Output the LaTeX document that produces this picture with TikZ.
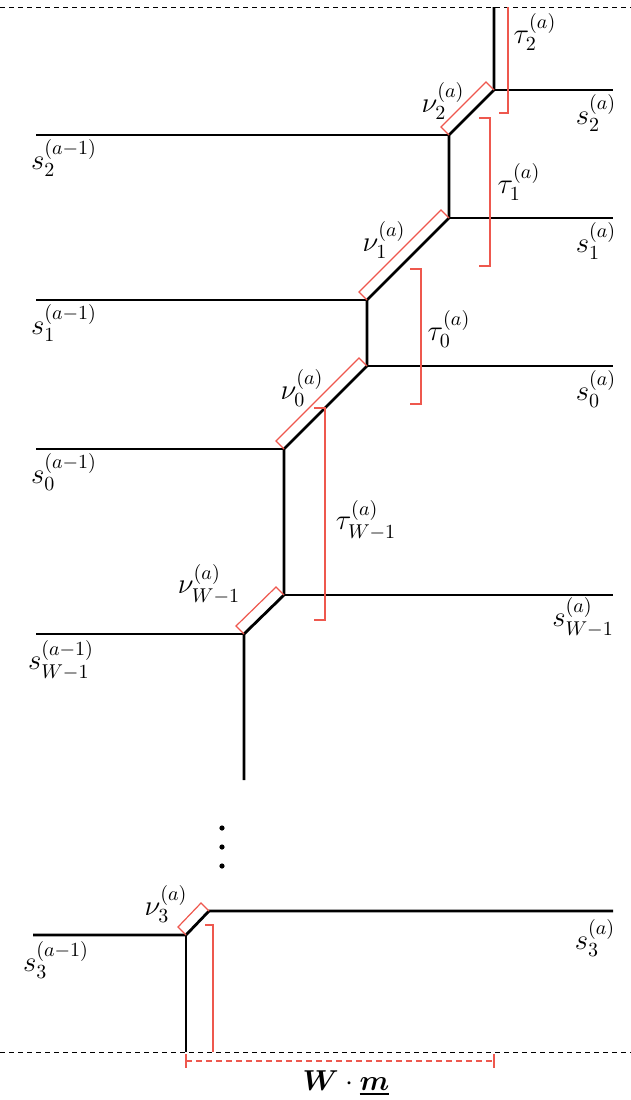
\documentclass[tikz,border=0pt]{standalone}
\usepackage{amsmath}
\definecolor{bred}{RGB}{238,88,78}
\begin{document}
\begin{tikzpicture}[x=0.5pt,y=-0.5pt,
  wire/.style={line width=1.4pt, line join=miter},
  redline/.style={draw=bred, line width=0.6pt},
  lab/.style={font=\fontsize{14.2}{17}\selectfont, inner sep=0pt},
  guide/.style={line width=0.5pt, dash pattern=on 2.5pt off 2pt}
]
\useasboundingbox (0,0) rectangle (631,1100);
% guide lines
\coordinate (GTl) at (0,7);   \coordinate (GTr) at (631,7);
\coordinate (GBl) at (0,1052); \coordinate (GBr) at (631,1052);
\draw[guide] (GTl) -- (GTr);
\draw[guide] (GBl) -- (GBr);
% junctions
\coordinate (T2top) at (494,7);
\coordinate (T2) at (494,90);  \coordinate (R2) at (613,90);
\coordinate (B2) at (449,135); \coordinate (L2) at (36,135);
\coordinate (T1) at (449,218); \coordinate (R1) at (613,218);
\coordinate (B1) at (367,300); \coordinate (L1) at (36,300);
\coordinate (T0) at (367,366); \coordinate (R0) at (613,366);
\coordinate (B0) at (284,449); \coordinate (L0) at (36,449);
\coordinate (TW) at (284,595); \coordinate (RW) at (613,595);
\coordinate (BW) at (244,634); \coordinate (LW) at (36,634);
\coordinate (BWbot) at (244,780);
\coordinate (T3) at (209,911); \coordinate (R3) at (613,911);
\coordinate (B3) at (186,935); \coordinate (L3) at (33,935);
\coordinate (B3bot) at (186,1052);
% black wires
\draw[wire] (T2top) -- (T2) -- (B2) -- (T1) -- (B1) -- (T0) -- (B0) -- (TW) -- (BW) -- (BWbot);
\draw[wire] (T2) -- (R2);
\draw[wire] (B2) -- (L2);
\draw[wire] (T1) -- (R1);
\draw[wire] (B1) -- (L1);
\draw[wire] (T0) -- (R0);
\draw[wire] (B0) -- (L0);
\draw[wire] (TW) -- (RW);
\draw[wire] (BW) -- (LW);
\draw[wire] (L3) -- (B3) -- (T3) -- (R3);
\draw[wire] (B3) -- (B3bot);
% nu brackets
\foreach \b/\t in {B2/T2, B1/T1, B0/T0, BW/TW, B3/T3}{
  \draw[redline] (\b) -- ([shift={(-8,-8)}]\b) -- ([shift={(-8,-8)}]\t) -- (\t);
}
% tau brackets
\coordinate (tau2a) at (508,7);   \coordinate (tau2b) at (508,113);
\draw[redline] (tau2a) -- (tau2b) -- ([shift={(-9,0)}]tau2b);
\coordinate (tau1a) at (490,118); \coordinate (tau1b) at (490,266);
\draw[redline] ([shift={(-11,0)}]tau1a) -- (tau1a) -- (tau1b) -- ([shift={(-11,0)}]tau1b);
\coordinate (tau0a) at (421,269); \coordinate (tau0b) at (421,404);
\draw[redline] ([shift={(-11,0)}]tau0a) -- (tau0a) -- (tau0b) -- ([shift={(-11,0)}]tau0b);
\coordinate (tauWa) at (325,408); \coordinate (tauWb) at (325,620);
\draw[redline] ([shift={(-11,0)}]tauWa) -- (tauWa) -- (tauWb) -- ([shift={(-11,0)}]tauWb);
\coordinate (tau3a) at (213,925); \coordinate (tau3b) at (213,1052);
\draw[redline] ([shift={(-8,0)}]tau3a) -- (tau3a) -- (tau3b);
% dimension
\coordinate (D1) at (186,1061); \coordinate (D2) at (494,1061);
\draw[redline, dash pattern=on 3pt off 2pt] (D1) -- (D2);
\draw[redline] ([shift={(0,-7)}]D1) -- ([shift={(0,7)}]D1);
\draw[redline] ([shift={(0,-7)}]D2) -- ([shift={(0,7)}]D2);
\node[font=\fontsize{14}{16}\selectfont, inner sep=0pt] (wm) at (346,1083) {$\boldsymbol{W}\cdot\underline{\boldsymbol{m}}$};
% dots
\fill (222,828) circle (2.6);
\fill (222,847) circle (2.6);
\fill (222,866) circle (2.6);
% labels right
\node[lab] (s2a) at (596,113) {$s_2^{(a)}$};
\node[lab] (s1a) at (596,241) {$s_1^{(a)}$};
\node[lab] (s0a) at (596,389) {$s_0^{(a)}$};
\node[lab] (sWa) at (583,617) {$s_{W-1}^{(a)}$};
\node[lab] (s3a) at (595,938) {$s_3^{(a)}$};
% labels left
\node[lab] (s2p) at (64,158) {$s_2^{(a-1)}$};
\node[lab] (s1p) at (64,323) {$s_1^{(a-1)}$};
\node[lab] (s0p) at (64,472) {$s_0^{(a-1)}$};
\node[lab] (sWp) at (61,660) {$s_{W-1}^{(a-1)}$};
\node[lab] (s3p) at (56,960) {$s_3^{(a-1)}$};
% nu labels
\node[lab] (nu2) at (443,101) {$\nu_2^{(a)}$};
\node[lab] (nu1) at (384,240) {$\nu_1^{(a)}$};
\node[lab] (nu0) at (302,388) {$\nu_0^{(a)}$};
\node[lab] (nuW) at (209,584) {$\nu_{W-1}^{(a)}$};
\node[lab] (nu3) at (166,904) {$\nu_3^{(a)}$};
% tau labels
\node[lab] (t2) at (535,32) {$\tau_2^{(a)}$};
\node[lab] (t1) at (519,182) {$\tau_1^{(a)}$};
\node[lab] (t0) at (449,329) {$\tau_0^{(a)}$};
\node[lab] (tW) at (366,520) {$\tau_{W-1}^{(a)}$};
\end{tikzpicture}
\end{document}
